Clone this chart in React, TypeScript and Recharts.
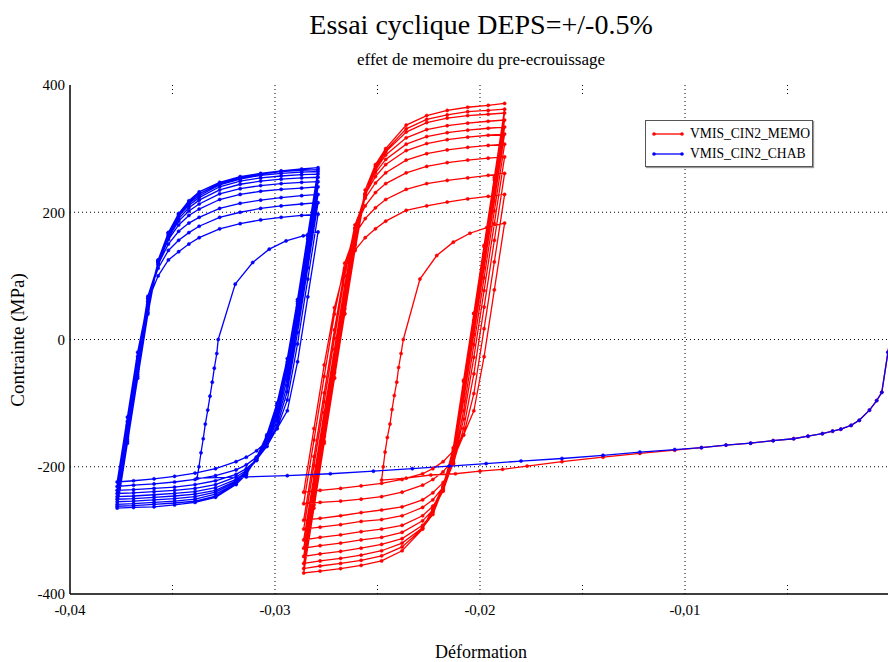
import { LineChart, Line, XAxis, YAxis, ReferenceLine } from "recharts";

// strain offsets shared by every half-cycle branch (from the loop corner)
const strainOffsets = [0, 0.0005, 0.001, 0.0015, 0.002, 0.0025, 0.003, 0.0035, 0.004, 0.005, 0.006, 0.007, 0.008, 0.009, 0.0098];

const xTicks = [-0.04, -0.03, -0.02, -0.01];
const yTicks = [-400, -200, 0, 200, 400];
const gridX = [-0.03, -0.02, -0.01];
const gridY = [-200, 0, 200];
const minorX = [-0.035, -0.025, -0.015, -0.005];

// ---- VMIS_CIN2_MEMO (red) ----
const memoMonotonic = [
    [0, 0], [-0.0001, -20], [-0.0004, -83], [-0.00065, -96], [-0.001, -111], [-0.0015, -127],
    [-0.0019, -135], [-0.0024, -141], [-0.0028, -144], [-0.0033, -148], [-0.004, -152],
    [-0.0047, -156], [-0.0057, -159], [-0.0068, -163], [-0.008, -166], [-0.0092, -170],
    [-0.0105, -174], [-0.0122, -179], [-0.014, -185], [-0.016, -192], [-0.0177, -199],
    [-0.0189, -204], [-0.02, -207], [-0.0212, -211], [-0.0224, -213], [-0.0236, -218], [-0.0248, -221],
];
const memoUnload = [
    [-0.02472, -200], [-0.02463, -177], [-0.02452, -154], [-0.02439, -133], [-0.02429, -110],
    [-0.02418, -88], [-0.02406, -67], [-0.02397, -44], [-0.02385, -22], [-0.02374, 0],
    [-0.02293, 95], [-0.02211, 132], [-0.0213, 153], [-0.02049, 167], [-0.01967, 176], [-0.0188, 183],
];
const memoLeft = -0.0286;
const memoRight = -0.0188;
const memoDown = [
    [183, 78, -27, -112, -150, -175, -192, -203, -211, -220, -226, -230, -234, -237, -240],
    [227, 122, 17, -85, -150, -188, -208, -220, -229, -240, -247, -251, -254, -256, -258],
    [261, 156, 51, -54, -140, -195, -225, -241, -252, -263, -268, -272, -277, -281, -284],
    [287, 182, 77, -28, -125, -195, -232, -252, -264, -277, -283, -286, -291, -295, -298],
    [307, 202, 97, -8, -112, -192, -238, -262, -277, -292, -298, -302, -307, -311, -315],
    [323, 218, 113, 8, -97, -185, -238, -268, -285, -303, -311, -315, -320, -324, -328],
    [334, 229, 124, 19, -86, -180, -236, -272, -292, -313, -322, -328, -333, -337, -341],
    [345, 240, 135, 30, -75, -177, -234, -275, -296, -320, -332, -339, -344, -348, -352],
    [356, 251, 146, 41, -64, -170, -232, -270, -297, -326, -340, -347, -352, -356, -360],
    [362, 255, 148, 41, -66, -172, -230, -265, -298, -332, -348, -355, -360, -364, -367],
];
const memoUp = [
    [-240, -140, -40, 50, 112, 140, 160, 174, 186, 203, 210, 216, 221, 225, 228],
    [-258, -158, -58, 40, 120, 165, 190, 207, 220, 236, 245, 250, 254, 258, 261],
    [-284, -184, -84, 15, 110, 175, 210, 231, 245, 262, 272, 278, 282, 285, 287],
    [-298, -198, -98, 2, 100, 180, 222, 246, 262, 282, 292, 298, 302, 305, 307],
    [-315, -215, -115, -15, 85, 175, 228, 256, 275, 297, 308, 314, 318, 321, 323],
    [-328, -228, -128, -28, 72, 168, 230, 262, 283, 307, 319, 325, 329, 332, 334],
    [-341, -241, -141, -41, 59, 158, 228, 266, 290, 317, 330, 336, 340, 343, 345],
    [-352, -252, -152, -52, 48, 148, 225, 268, 295, 326, 341, 348, 352, 354, 356],
    [-360, -260, -160, -60, 40, 140, 228, 272, 297, 331, 346, 353, 358, 360, 362],
    [-367, -265, -163, -61, 41, 150, 235, 275, 300, 337, 352, 360, 365, 368, 371],
];

// ---- VMIS_CIN2_CHAB (blue) ----
const chabMonotonic = [
    [0, 0], [-0.0001, -20], [-0.0004, -83], [-0.00065, -96], [-0.001, -111], [-0.0015, -127],
    [-0.0019, -135], [-0.0024, -141], [-0.0028, -144], [-0.0033, -148], [-0.004, -152],
    [-0.0047, -156], [-0.0057, -159], [-0.0068, -163], [-0.008, -166], [-0.0092, -170],
    [-0.0105, -173], [-0.0122, -177], [-0.014, -182], [-0.016, -187], [-0.018, -191],
    [-0.0197, -195], [-0.0215, -199], [-0.0233, -203], [-0.0252, -207], [-0.0273, -211],
    [-0.0294, -214], [-0.0314, -216], [-0.0338, -218],
];
const chabUnload = [
    [-0.03371, -200], [-0.03361, -178], [-0.0335, -156], [-0.0334, -133], [-0.03328, -111],
    [-0.03317, -89], [-0.03306, -67], [-0.03296, -45], [-0.03284, -22], [-0.03277, 0],
    [-0.03194, 87], [-0.03109, 121], [-0.03028, 142], [-0.02946, 155], [-0.02862, 163], [-0.0279, 169],
];
const chabLeft = -0.0377;
const chabRight = -0.0279;
const chabDown = [
    [169, 67, -35, -112, -140, -160, -175, -185, -192, -203, -210, -215, -219, -222, -224],
    [197, 95, -7, -95, -140, -168, -185, -197, -205, -214, -220, -224, -227, -229, -231],
    [215, 113, 11, -82, -135, -168, -189, -203, -212, -222, -228, -232, -234, -236, -237],
    [228, 126, 24, -72, -128, -165, -190, -206, -216, -228, -234, -237, -239, -241, -242],
    [240, 138, 36, -62, -122, -162, -190, -208, -220, -233, -239, -242, -244, -246, -247],
    [248, 146, 44, -52, -116, -158, -188, -209, -222, -237, -243, -246, -248, -250, -251],
    [255, 153, 51, -45, -110, -156, -187, -210, -224, -240, -247, -250, -252, -254, -255],
    [260, 158, 56, -39, -106, -154, -186, -211, -226, -243, -251, -254, -256, -258, -259],
    [264, 162, 60, -35, -103, -152, -186, -212, -227, -246, -254, -257, -259, -261, -262],
    [267, 165, 63, -30, -100, -150, -185, -212, -228, -248, -256, -260, -263, -264, -265],
];
const chabUp = [
    [-224, -122, -20, 60, 100, 125, 138, 150, 160, 174, 182, 188, 192, 195, 197],
    [-231, -129, -27, 65, 112, 140, 156, 168, 178, 192, 200, 206, 210, 213, 215],
    [-237, -135, -33, 68, 118, 150, 170, 183, 192, 206, 214, 219, 223, 226, 228],
    [-242, -140, -38, 64, 120, 157, 180, 195, 205, 220, 228, 233, 236, 238, 240],
    [-247, -145, -43, 59, 122, 160, 186, 202, 213, 229, 237, 242, 245, 247, 248],
    [-251, -149, -47, 55, 122, 163, 190, 207, 219, 235, 244, 249, 252, 254, 255],
    [-255, -153, -51, 51, 123, 165, 194, 211, 223, 240, 249, 254, 257, 259, 260],
    [-259, -157, -55, 47, 124, 167, 196, 214, 226, 243, 252, 258, 261, 263, 264],
    [-262, -160, -58, 43, 124, 168, 197, 216, 229, 245, 254, 260, 264, 266, 267],
    [-265, -163, -61, 40, 125, 168, 198, 218, 232, 247, 256, 261, 265, 268, 270],
];

function buildPath(
    monotonic: number[][],
    unload: number[][],
    down: number[][],
    up: number[][],
    left: number,
    right: number
) {
    const pts = [...monotonic, ...unload].map(([x, y]) => ({ x, y }));
    down.forEach((branch, i) => {
        branch.forEach((s, j) => {
            if (j > 0) pts.push({ x: right - strainOffsets[j], y: s });
        });
        up[i].forEach((s, j) => {
            if (j > 0) pts.push({ x: left + strainOffsets[j], y: s });
        });
    });
    return pts;
}

const memoData = buildPath(memoMonotonic, memoUnload, memoDown, memoUp, memoLeft, memoRight);
const chabData = buildPath(chabMonotonic, chabUnload, chabDown, chabUp, chabLeft, chabRight);

const font = "Liberation Serif, Times New Roman, serif";
const fmtStrain = (v: number) => v.toFixed(2).replace(".", ",");

function XTick({ x, y, payload }: any) {
    return (
        <text x={x} y={y} dy="0.71em" textAnchor="middle" fill="#000" fontSize={15} style={{ fontFamily: font }}>
            {fmtStrain(payload.value)}
        </text>
    );
}

function YTick({ x, y, payload }: any) {
    return (
        <text x={x} y={y} dy="0.355em" textAnchor="end" fill="#000" fontSize={15} style={{ fontFamily: font }}>
            {payload.value}
        </text>
    );
}

function LegendIcon({ color }: { color: string }) {
    return (
        <svg width={32} height={8} style={{ marginRight: 6 }}>
            <line x1={2} y1={4} x2={30} y2={4} stroke={color} strokeWidth={1.3} />
            <circle cx={2} cy={4} r={1.8} fill={color} />
            <circle cx={30} cy={4} r={1.8} fill={color} />
        </svg>
    );
}

export default function App() {
    return (
        <div
            style={{
                position: "fixed",
                left: 0,
                top: 0,
                width: 888,
                height: 662,
                overflow: "hidden",
                background: "#fff",
                fontFamily: font,
            }}
        >
            <LineChart
                width={900}
                height={662}
                margin={{ top: 85, right: 10, bottom: 38, left: 10 }}
                style={{ fontFamily: font }}
            >
                {gridX.map((v) => (
                    <ReferenceLine key={"gx" + v} x={v} stroke="#000" strokeDasharray="1 3" />
                ))}
                {gridY.map((v) => (
                    <ReferenceLine key={"gy" + v} y={v} stroke="#000" strokeDasharray="1 3" />
                ))}
                {minorX.map((v) => (
                    <ReferenceLine
                        key={"mt" + v}
                        segment={[{ x: v, y: 400 }, { x: v, y: 385 }]}
                        stroke="#000"
                        strokeDasharray="1 3"
                    />
                ))}
                {minorX.map((v) => (
                    <ReferenceLine
                        key={"mb" + v}
                        segment={[{ x: v, y: -400 }, { x: v, y: -385 }]}
                        stroke="#000"
                        strokeDasharray="1 3"
                    />
                ))}
                <XAxis
                    type="number"
                    dataKey="x"
                    domain={[-0.04, 0]}
                    ticks={xTicks}
                    tick={<XTick />}
                    tickLine={false}
                    tickSize={0}
                    tickMargin={10}
                    axisLine={{ stroke: "#000", strokeWidth: 1.5 }}
                    height={30}
                    interval={0}
                />
                <YAxis
                    type="number"
                    dataKey="y"
                    domain={[-400, 400]}
                    ticks={yTicks}
                    tick={<YTick />}
                    tickLine={false}
                    tickSize={0}
                    tickMargin={5}
                    axisLine={{ stroke: "#000", strokeWidth: 1.5 }}
                    width={60}
                    interval={0}
                />
                <Line
                    data={memoData}
                    dataKey="y"
                    type="linear"
                    stroke="#ff0000"
                    strokeWidth={1.3}
                    dot={{ r: 1.6, fill: "#ff0000", stroke: "#ff0000", strokeWidth: 0.5 }}
                    isAnimationActive={false}
                />
                <Line
                    data={chabData}
                    dataKey="y"
                    type="linear"
                    stroke="#0000ff"
                    strokeWidth={1.3}
                    dot={{ r: 1.6, fill: "#0000ff", stroke: "#0000ff", strokeWidth: 0.5 }}
                    isAnimationActive={false}
                />
            </LineChart>

            <div style={{ position: "absolute", left: 481, top: 11, transform: "translateX(-50%)", fontSize: 28, lineHeight: 1, whiteSpace: "nowrap" }}>
                Essai cyclique DEPS=+/-0.5%
            </div>
            <div style={{ position: "absolute", left: 481, top: 51, transform: "translateX(-50%)", fontSize: 17, lineHeight: 1, whiteSpace: "nowrap" }}>
                effet de memoire du pre-ecrouissage
            </div>
            <div style={{ position: "absolute", left: 481, top: 643, transform: "translateX(-50%)", fontSize: 18, lineHeight: 1, whiteSpace: "nowrap" }}>
                Déformation
            </div>
            <div
                style={{
                    position: "absolute",
                    left: 17,
                    top: 340,
                    transform: "translate(-50%, -50%) rotate(-90deg)",
                    fontSize: 19,
                    lineHeight: 1,
                    whiteSpace: "nowrap",
                }}
            >
                Contrainte (MPa)
            </div>

            <div
                style={{
                    position: "absolute",
                    left: 645,
                    top: 120,
                    width: 168,
                    height: 47,
                    border: "1px solid #555",
                    boxShadow: "1px 1px 1px #999",
                    background: "#fff",
                    fontSize: 13.6,
                    lineHeight: "20px",
                    padding: "3px 0 0 6px",
                    boxSizing: "border-box",
                }}
            >
                <div style={{ display: "flex", alignItems: "center" }}>
                    <LegendIcon color="#ff0000" />
                    VMIS_CIN2_MEMO
                </div>
                <div style={{ display: "flex", alignItems: "center" }}>
                    <LegendIcon color="#0000ff" />
                    VMIS_CIN2_CHAB
                </div>
            </div>
        </div>
    );
}
